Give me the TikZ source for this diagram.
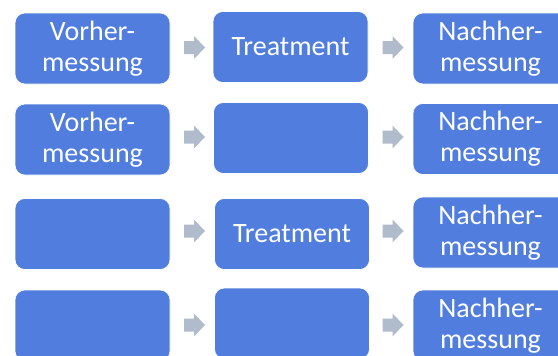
\documentclass[tikz,border=0pt]{standalone}
\usepackage{fontspec}
\setmainfont{Carlito}
\definecolor{boxblue}{RGB}{81,126,222}
\definecolor{arrgray}{RGB}{176,187,203}
\begin{document}
\begin{tikzpicture}[x=1pt,y=-1pt,
  blk/.style={fill=boxblue, draw=white, line width=0.6pt, rounded corners=10pt,
    minimum width=155pt, minimum height=71pt, inner sep=0pt,
    text=white, align=center, font=\fontsize{28}{31}\selectfont},
  two/.style={blk, execute at begin node={\rule{0pt}{24pt}}},
  barrow/.pic={\fill[arrgray] (-10.5,-6.5) -- (-0.5,-6.5) -- (-0.5,-11.5) -- (10.5,0)
     -- (-0.5,11.5) -- (-0.5,6.5) -- (-10.5,6.5) -- cycle;}]
\useasboundingbox (0,0) rectangle (558,356);
\clip (0,0) rectangle (558,356);
\fill[white] (0,0) rectangle (558,356);
% row 1
\node[two] (l1) at (92.5,48.5) {Vorher-\\messung};
\node[blk] (m1) at (290.5,47) {Treatment};
\node[two] (r1) at (490.5,48.5) {Nachher-\\messung};
% row 2
\node[two] (l2) at (92.5,139.5) {Vorher-\\messung};
\node[blk] (m2) at (291,138) {};
\node[two] (r2) at (490.5,139) {Nachher-\\messung};
% row 3
\node[blk] (l3) at (92.5,234) {};
\node[blk] (m3) at (292,234) {Treatment};
\node[two] (r3) at (490.5,232.5) {Nachher-\\messung};
% row 4
\node[blk] (l4) at (92.5,325.5) {};
\node[blk] (m4) at (292,323.5) {};
\node[two] (r4) at (490.5,325.5) {Nachher-\\messung};
% arrows
\pic at (194.5,47.5) {barrow};
\pic at (393,47.5) {barrow};
\pic at (194.5,137) {barrow};
\pic at (393,137) {barrow};
\pic at (194.5,231) {barrow};
\pic at (393,231) {barrow};
\pic at (194.5,325) {barrow};
\pic at (393,325) {barrow};
\end{tikzpicture}
\end{document}
